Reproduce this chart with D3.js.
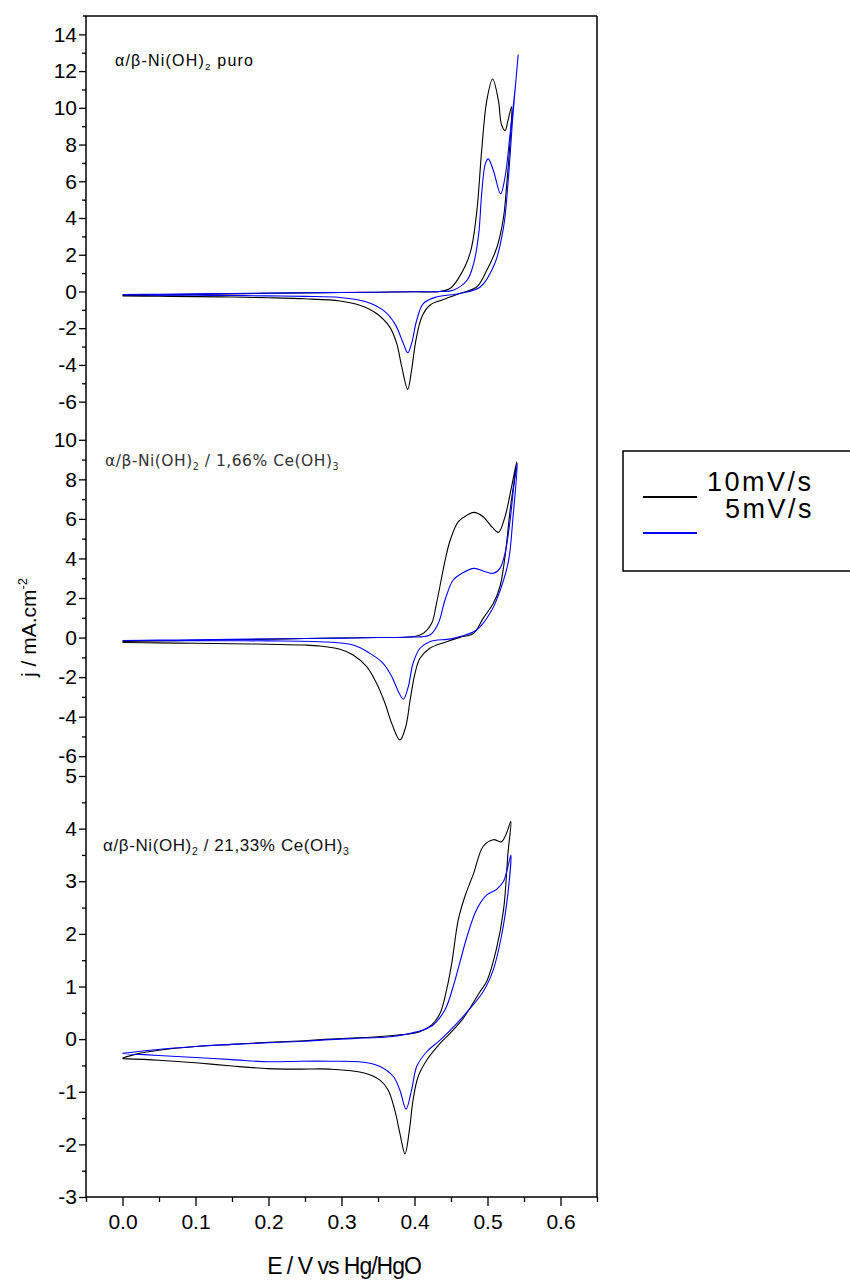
<!DOCTYPE html>
<html>
<head>
<meta charset="utf-8">
<script src="https://cdn.jsdelivr.net/npm/d3@7"></script>
<style>
  body { margin: 0; background: #fff; }
  svg text { font-family: "Liberation Sans", Arial, sans-serif; }
</style>
</head>
<body>
<svg id="chart" width="850" height="1280"></svg>
<script>
// x ticks (E / V)
const xMajor = [0.0, 0.1, 0.2, 0.3, 0.4, 0.5, 0.6];
const xMinor = [-0.05, 0.05, 0.15, 0.25, 0.35, 0.45, 0.55, 0.65];

// y ticks per panel
const puroMajor = [-6, -4, -2, 0, 2, 4, 6, 8, 10, 12, 14];
const puroMinor = [-5, -3, -1, 1, 3, 5, 7, 9, 11, 13];
const ce166Major = [-6, -4, -2, 0, 2, 4, 6, 8, 10];
const ce166Minor = [-5, -3, -1, 1, 3, 5, 7, 9];
const ce2133Major = [-3, -2, -1, 0, 1, 2, 3, 4, 5];
const ce2133Minor = [-2.5, -1.5, -0.5, 0.5, 1.5, 2.5, 3.5, 4.5];

const seriesNames = ["10mV/s", "5mV/s"];

// [E, j] -- pure alpha/beta-Ni(OH)2
const puro10 = [[0.0,-0.22],[0.05,-0.19],[0.1,-0.16],[0.15,-0.13],[0.2,-0.1],[0.25,-0.08],[0.3,-0.06],[0.35,-0.04],[0.4,-0.02],[0.435,0.0],[0.4486,0.16],[0.46,0.7],[0.476,2.06],[0.485,4.23],[0.492,7.67],[0.499,10.39],[0.507,11.57],[0.515,10.39],[0.519,9.12],[0.524,8.76],[0.528,9.3],[0.533,10.07],
  [0.531,8.22],[0.526,5.68],[0.522,4.05],[0.513,2.42],[0.499,1.15],[0.485,0.24],[0.462,-0.11],[0.4395,-0.44],[0.421,-0.75],[0.41,-1.39],[0.402,-2.65],[0.396,-4.28],[0.3907,-5.33],[0.3825,-4.1],[0.3756,-2.83],[0.366,-1.93],[0.348,-1.2],[0.325,-0.75],[0.298,-0.52],[0.25,-0.4],[0.2,-0.34],[0.15,-0.3],[0.1,-0.28],[0.05,-0.26],[0.0,-0.25]];
const puro5 = [[0.0,-0.17],[0.05,-0.15],[0.1,-0.13],[0.15,-0.11],[0.2,-0.09],[0.25,-0.07],[0.3,-0.06],[0.35,-0.04],[0.4,-0.02],[0.435,0.0],[0.453,0.07],[0.472,0.61],[0.481,1.52],[0.488,3.15],[0.492,5.32],[0.497,6.95],[0.501,7.22],[0.508,6.59],[0.518,5.32],[0.524,6.22],[0.531,8.58],[0.538,11.11],[0.542,12.87],
  [0.535,9.67],[0.528,5.86],[0.522,3.5],[0.51,1.52],[0.49,0.24],[0.462,-0.11],[0.43,-0.3],[0.412,-0.66],[0.403,-1.57],[0.396,-2.83],[0.3907,-3.34],[0.3847,-2.83],[0.373,-1.75],[0.357,-1.02],[0.3345,-0.57],[0.298,-0.33],[0.25,-0.27],[0.2,-0.24],[0.15,-0.22],[0.1,-0.21],[0.05,-0.2],[0.0,-0.19]];

// 1,66% Ce(OH)3
const ce166_10 = [[0.0,-0.2],[0.05,-0.17],[0.1,-0.14],[0.15,-0.11],[0.2,-0.08],[0.25,-0.05],[0.3,-0.02],[0.35,0.0],[0.4,0.05],[0.412,0.21],[0.4235,0.72],[0.43,1.7],[0.442,3.92],[0.449,4.93],[0.46,5.86],[0.472,6.19],[0.4815,6.33],[0.494,6.11],[0.506,5.6],[0.515,5.32],[0.524,6.11],[0.533,7.63],[0.54,8.89],
  [0.531,6.45],[0.524,4.09],[0.517,2.57],[0.508,1.73],[0.494,0.97],[0.481,0.21],[0.462,0.01],[0.444,-0.21],[0.421,-0.54],[0.4075,-1.05],[0.4007,-1.81],[0.394,-3.16],[0.388,-4.51],[0.38,-5.18],[0.3688,-4.34],[0.3596,-3.32],[0.348,-2.31],[0.3345,-1.47],[0.316,-0.88],[0.298,-0.59],[0.2705,-0.43],[0.25,-0.38],[0.2,-0.34],[0.15,-0.31],[0.1,-0.29],[0.05,-0.27],[0.0,-0.25]];
const ce166_5 = [[0.0,-0.15],[0.05,-0.13],[0.1,-0.11],[0.15,-0.09],[0.2,-0.07],[0.25,-0.05],[0.3,-0.03],[0.35,0.0],[0.39,0.03],[0.421,0.13],[0.4326,0.72],[0.4418,1.9],[0.453,2.91],[0.465,3.25],[0.4815,3.5],[0.497,3.33],[0.508,3.25],[0.517,3.5],[0.524,4.26],[0.531,5.94],[0.536,7.63],[0.541,8.81],
  [0.535,6.11],[0.529,3.92],[0.519,2.57],[0.506,1.39],[0.485,0.38],[0.453,-0.04],[0.421,-0.21],[0.4075,-0.54],[0.398,-1.3],[0.3915,-2.48],[0.3847,-3.12],[0.378,-2.74],[0.369,-1.98],[0.357,-1.3],[0.339,-0.8],[0.316,-0.38],[0.2705,-0.21],[0.2,-0.17],[0.15,-0.16],[0.1,-0.16],[0.05,-0.15],[0.0,-0.15]];

// 21,33% Ce(OH)3
const ce2133_10 = [[0.0,-0.36],[0.02,-0.28],[0.05,-0.21],[0.1,-0.14],[0.15,-0.1],[0.2,-0.06],[0.25,-0.03],[0.284,0.0],[0.3527,0.05],[0.4075,0.14],[0.4235,0.27],[0.435,0.49],[0.444,0.94],[0.451,1.44],[0.46,2.27],[0.469,2.71],[0.481,3.15],[0.494,3.66],[0.508,3.79],[0.519,3.75],[0.526,3.91],[0.532,4.14],
  [0.528,3.53],[0.522,2.46],[0.512,1.7],[0.499,1.1],[0.4897,0.9],[0.467,0.4],[0.4486,0.11],[0.435,-0.08],[0.4167,-0.4],[0.405,-0.71],[0.398,-1.16],[0.393,-1.73],[0.387,-2.18],[0.38,-1.79],[0.373,-1.35],[0.364,-0.97],[0.3527,-0.78],[0.33,-0.64],[0.284,-0.57],[0.243,-0.57],[0.2,-0.56],[0.15,-0.51],[0.1,-0.45],[0.05,-0.4],[0.0,-0.37]];
const ce2133_5 = [[0.0,-0.27],[0.038,-0.21],[0.1,-0.14],[0.15,-0.1],[0.2,-0.07],[0.25,-0.04],[0.284,-0.01],[0.33,0.02],[0.376,0.06],[0.4235,0.25],[0.4418,0.56],[0.453,1.0],[0.462,1.45],[0.472,1.95],[0.485,2.46],[0.499,2.74],[0.512,2.84],[0.522,3.0],[0.528,3.28],[0.532,3.5],
  [0.528,2.77],[0.519,1.95],[0.508,1.32],[0.494,0.9],[0.458,0.3],[0.435,-0.02],[0.4167,-0.24],[0.403,-0.52],[0.396,-0.97],[0.3884,-1.33],[0.38,-0.97],[0.371,-0.71],[0.3527,-0.52],[0.33,-0.44],[0.284,-0.42],[0.243,-0.42],[0.2,-0.43],[0.15,-0.39],[0.1,-0.35],[0.05,-0.31],[0.0,-0.27]];

const colors = ["#000000", "#0000ff"];

const svg = d3.select("#chart");
const left = 86, right = 597;

const x_scale = d3.scaleLinear().domain([-0.05, 0.65]).range([left, right]);

const panels = [
  { top: 16, bottom: 420, domain: [-7, 15], major: puroMajor, minor: puroMinor, curves: [puro10, puro5] },
  { top: 420, bottom: 776, domain: [-7, 11], major: ce166Major, minor: ce166Minor, curves: [ce166_10, ce166_5] },
  { top: 776, bottom: 1197, domain: [-3, 5], major: ce2133Major, minor: ce2133Minor, curves: [ce2133_10, ce2133_5] }
];

panels.forEach((p, i) => {
  const y_scale = d3.scaleLinear().domain(p.domain).range([p.bottom, p.top]);

  const lineGen = d3.line()
    .x(d => x_scale(d[0]))
    .y(d => y_scale(d[1]))
    .curve(d3.curveCatmullRom.alpha(0.5));

  // curves (black first, blue on top)
  svg.append("g").selectAll("path").data(p.curves).join("path")
    .attr("d", d => lineGen(d))
    .attr("fill", "none")
    .attr("stroke", (d, k) => colors[k])
    .attr("stroke-width", 1.1);

  // minor y ticks
  svg.append("g").attr("class", "y-minor")
    .attr("transform", `translate(${left},0)`)
    .call(d3.axisLeft(y_scale).tickValues(p.minor).tickSize(4).tickFormat(""))
    .call(g => g.select(".domain").remove());

  // major y ticks (hyphen minus like the original)
  svg.append("g").attr("class", "y-axis")
    .attr("transform", `translate(${left},0)`)
    .call(d3.axisLeft(y_scale).tickValues(p.major).tickSize(7).tickPadding(2).tickFormat(d => String(d)))
    .call(g => g.select(".domain").remove());

  // right border
  svg.append("line")
    .attr("x1", right).attr("x2", right)
    .attr("y1", p.top).attr("y2", p.bottom)
    .attr("stroke", "#000").attr("stroke-width", 1.5);
});

// left axis line and top frame
svg.append("line").attr("x1", left).attr("x2", left).attr("y1", 16).attr("y2", 1197)
  .attr("stroke", "#000").attr("stroke-width", 1.5);
svg.append("line").attr("x1", left - 3).attr("x2", right).attr("y1", 16).attr("y2", 16)
  .attr("stroke", "#000").attr("stroke-width", 1.5);

// x axis
svg.append("g").attr("class", "x-minor")
  .attr("transform", "translate(0,1197)")
  .call(d3.axisBottom(x_scale).tickValues(xMinor).tickSize(5).tickFormat(""))
  .call(g => g.select(".domain").remove());
svg.append("g").attr("class", "x-axis")
  .attr("transform", "translate(0,1197)")
  .call(d3.axisBottom(x_scale).tickValues(xMajor).tickSize(9).tickPadding(8).tickFormat(d => d.toFixed(1)))
  .call(g => g.select(".domain").remove());
svg.append("line").attr("x1", left).attr("x2", right).attr("y1", 1197).attr("y2", 1197)
  .attr("stroke", "#000").attr("stroke-width", 1.5);

svg.selectAll(".y-axis text, .x-axis text")
  .style("font-size", "21px").attr("fill", "#000");
svg.selectAll(".tick line").attr("stroke", "#000").attr("stroke-width", 1.3);

// axis titles
svg.append("text")
  .attr("x", 344).attr("y", 1274)
  .attr("text-anchor", "middle")
  .style("font-size", "23px").style("letter-spacing", "-1px")
  .text("E / V vs Hg/HgO");

const yTitle = svg.append("text")
  .attr("transform", "translate(36,677) rotate(-90)")
  .style("font-size", "21px");
yTitle.append("tspan").text("j / mA.cm");
yTitle.append("tspan").attr("dy", -9).style("font-size", "13px").text("-2");

// panel labels
function panelLabel(x, y, size, spacing, color, family, after, sub2) {
  const t = svg.append("text").attr("x", x).attr("y", y)
    .style("font-size", size + "px").style("letter-spacing", spacing + "px")
    .attr("fill", color);
  if (family) t.style("font-family", family);
  t.append("tspan").text("\u03b1/\u03b2-Ni(OH)");
  t.append("tspan").attr("dy", 4).style("font-size", (size * 0.62) + "px").text("2");
  t.append("tspan").attr("dy", -4).text(after);
  if (sub2) t.append("tspan").attr("dy", 4).style("font-size", (size * 0.62) + "px").text(sub2);
}
panelLabel(115, 66, 16, 1.2, "#000", null, " puro", null);
panelLabel(105, 466, 15.5, 0.5, "#333", "DejaVu Sans", " / 1,66% Ce(OH)", "3");
panelLabel(103, 851, 17, 0.6, "#111", null, " / 21,33% Ce(OH)", "3");

// legend
const legend = svg.append("g");
legend.append("rect")
  .attr("x", 623).attr("y", 451).attr("width", 240).attr("height", 120)
  .attr("fill", "none").attr("stroke", "#000").attr("stroke-width", 1.5);
const legendRows = [
  { label: seriesNames[0], lineY: 497, textX: 707, textY: 491 },
  { label: seriesNames[1], lineY: 533, textX: 725, textY: 518 }
];
legend.selectAll(".leg-line").data(legendRows).join("line")
  .attr("class", "leg-line")
  .attr("x1", 643).attr("x2", 697)
  .attr("y1", d => d.lineY).attr("y2", d => d.lineY)
  .attr("stroke", (d, i) => colors[i]).attr("stroke-width", 2);
legend.selectAll(".leg-text").data(legendRows).join("text")
  .attr("class", "leg-text")
  .attr("x", d => d.textX).attr("y", d => d.textY)
  .style("font-size", "27px").style("letter-spacing", "2.5px")
  .text(d => d.label);
</script>
</body>
</html>
